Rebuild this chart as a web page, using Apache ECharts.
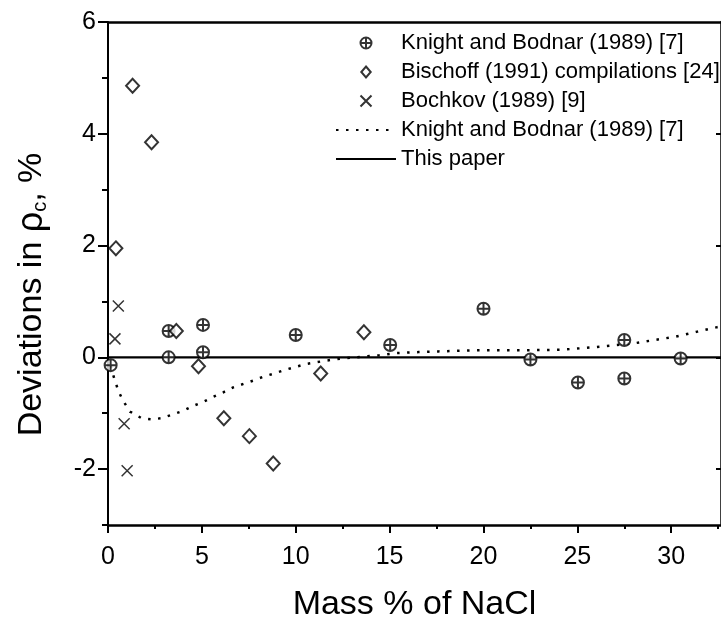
<!DOCTYPE html>
<html>
<head>
<meta charset="utf-8">
<script src="https://cdn.jsdelivr.net/npm/echarts@6/dist/echarts.min.js"></script>
<style>
html,body{margin:0;padding:0;background:#fff;}
#c{width:721px;height:627px;}
</style>
</head>
<body>
<div id="c"></div>
<script>
// ---- data ----
const knightX = [0.14, 3.23, 3.23, 5.06, 5.06, 10.0, 15.03, 20.0, 22.5, 25.03, 27.5, 27.5, 30.5];
const knightY = [-0.14, 0.47, 0.0, 0.58, 0.09, 0.40, 0.22, 0.87, -0.04, -0.45, 0.31, -0.38, -0.02];

const bischoffX = [0.42, 1.31, 2.32, 3.64, 4.82, 6.17, 7.53, 8.8, 11.33, 13.63];
const bischoffY = [1.95, 4.86, 3.85, 0.47, -0.16, -1.09, -1.41, -1.90, -0.29, 0.45];

const bochkovX = [0.37, 0.55, 0.86, 1.02];
const bochkovY = [0.33, 0.92, -1.19, -2.03];

const knightFitX = [0.15, 0.28, 0.55, 0.81, 1.17, 1.79, 2.32, 2.84, 3.46, 3.99, 4.52, 5.06, 5.59, 6.12, 6.65, 7.26, 7.79, 8.32, 8.85, 9.47, 10.53, 11.59, 12.21, 13.8, 14.42, 15.39, 16.54, 17.6, 18.75, 19.37, 20.5, 22.0, 24.15, 25.3, 26.4, 28.0, 29.1, 30.24, 31.39, 32.45, 32.65];
const knightFitY = [-0.15, -0.32, -0.60, -0.78, -0.97, -1.09, -1.11, -1.09, -1.02, -0.96, -0.87, -0.80, -0.71, -0.63, -0.54, -0.47, -0.41, -0.34, -0.29, -0.22, -0.12, -0.06, -0.03, 0.02, 0.035, 0.076, 0.094, 0.106, 0.118, 0.124, 0.128, 0.125, 0.136, 0.165, 0.195, 0.25, 0.31, 0.37, 0.46, 0.54, 0.55];

const thisPaperX = [0, 32.65];
const thisPaperY = [0, 0];

const seriesNames = ['Knight and Bodnar (1989) [7]', 'Bischoff (1991) compilations [24]', 'Bochkov (1989) [9]', 'Knight and Bodnar (1989) [7] ', 'This paper'];

const xMajorTicks = [0, 5, 10, 15, 20, 25, 30];
const xMinorTicks = [2.5, 7.5, 12.5, 17.5, 22.5, 27.5, 32.5];
const yMajorTicks = [-2, 0, 2, 4, 6];
const yMinorTicks = [-3, -1, 1, 3, 5];
const yRightTicks = [-2, 0, 2, 4];

const X_MIN = 0, X_MAX = 32.65, Y_MIN = -3, Y_MAX = 6;

// ---- chart ----
const FONT = '"Liberation Sans", Arial, Helvetica, sans-serif';
const pairs = (xs, ys) => xs.map((x, i) => [x, ys[i]]);
const black = '#000';

const oplusPath = 'path://M10,0 A10,10 0 1,1 -10,0 A10,10 0 1,1 10,0 Z M-10,0 L10,0 M0,-10 L0,10';
const diamondPath = 'path://M0,-7 L6,0 L0,7 L-6,0 Z';
const crossPath = 'path://M0,0 L10,10 M0,10 L10,0';

const chart = echarts.init(document.getElementById('c'), null, {renderer: 'canvas'});

const baseX = {type: 'value', min: X_MIN, max: X_MAX, splitLine: {show: false}};
const baseY = {type: 'value', min: Y_MIN, max: Y_MAX, splitLine: {show: false}};
const hiddenItem = {color: 'transparent', borderWidth: 0, opacity: 0};

chart.setOption({
  animation: false,
  backgroundColor: '#fff',
  grid: {left: 108, right: -3, top: 22, bottom: 96, containLabel: false},
  legend: {
    orient: 'vertical',
    left: 335,
    top: 32,
    padding: 0,
    itemWidth: 60,
    itemHeight: 11,
    itemGap: 7,
    selectedMode: false,
    data: seriesNames,
    textStyle: {fontFamily: FONT, fontSize: 22, lineHeight: 22, color: black}
  },
  xAxis: [
    Object.assign({}, baseX, {
      position: 'bottom',
      axisLine: {onZero: false, lineStyle: {color: black, width: 2.5}},
      axisTick: {customValues: xMajorTicks, length: 8, lineStyle: {color: black, width: 2}},
      axisLabel: {customValues: xMajorTicks, margin: 20, fontFamily: FONT, fontSize: 25, color: black},
      name: 'Mass % of NaCl',
      nameLocation: 'middle',
      nameGap: 63,
      nameTextStyle: {fontFamily: FONT, fontSize: 34, color: black}
    }),
    Object.assign({}, baseX, {
      position: 'bottom',
      axisLine: {onZero: false, show: false},
      axisTick: {customValues: xMinorTicks, length: 4, lineStyle: {color: black, width: 2}},
      axisLabel: {show: false}
    }),
    Object.assign({}, baseX, {
      position: 'top',
      axisLine: {onZero: false, lineStyle: {color: black, width: 2.5}},
      axisTick: {show: false},
      axisLabel: {show: false}
    })
  ],
  yAxis: [
    Object.assign({}, baseY, {
      position: 'left',
      axisLine: {onZero: false, lineStyle: {color: black, width: 2}},
      axisTick: {customValues: yMajorTicks, length: 10, lineStyle: {color: black, width: 2}},
      axisLabel: {customValues: yMajorTicks, margin: 12, fontFamily: FONT, fontSize: 25, color: black},
      name: '{t|Deviations in }{r|ρ}{s|c}{t|, %}',
      nameLocation: 'middle',
      nameGap: 58,
      nameRotate: 90,
      nameTextStyle: {
        fontFamily: FONT, fontSize: 34, color: black,
        padding: [0, 42, 0, 0],
        rich: {
          t: {fontFamily: FONT, fontSize: 34, color: black},
          r: {fontFamily: FONT, fontSize: 36, color: black},
          s: {fontFamily: FONT, fontSize: 20, color: black, verticalAlign: 'bottom'}
        }
      }
    }),
    Object.assign({}, baseY, {
      position: 'left',
      axisLine: {onZero: false, show: false},
      axisTick: {customValues: yMinorTicks, length: 6, lineStyle: {color: black, width: 2}},
      axisLabel: {show: false}
    }),
    Object.assign({}, baseY, {
      position: 'right',
      axisLine: {onZero: false, lineStyle: {color: black, width: 2.5}},
      axisTick: {customValues: yRightTicks, inside: true, length: 5, lineStyle: {color: black, width: 2}},
      axisLabel: {show: false}
    })
  ],
  series: [
    {
      name: seriesNames[3], type: 'line', data: pairs(knightFitX, knightFitY),
      symbol: 'none', smooth: false, z: 2, color: black,
      itemStyle: hiddenItem,
      lineStyle: {color: black, width: 2.5, type: [2.5, 7.5]}
    },
    {
      name: seriesNames[4], type: 'line', data: pairs(thisPaperX, thisPaperY),
      symbol: 'none', z: 2, color: black,
      itemStyle: hiddenItem,
      lineStyle: {color: black, width: 2.2}
    },
    {
      name: seriesNames[0], type: 'scatter', data: pairs(knightX, knightY),
      symbol: oplusPath, symbolSize: 12, z: 3,
      itemStyle: {color: '#fff', borderColor: black, borderWidth: 2}
    },
    {
      name: seriesNames[1], type: 'scatter', data: pairs(bischoffX, bischoffY),
      symbol: diamondPath, symbolSize: [13, 14], z: 3,
      itemStyle: {color: '#fff', borderColor: black, borderWidth: 2}
    },
    {
      name: seriesNames[2], type: 'scatter', data: pairs(bochkovX, bochkovY),
      symbol: crossPath, symbolSize: 11, z: 3,
      itemStyle: {color: 'transparent', borderColor: black, borderWidth: 1.5}
    }
  ]
});
</script>
</body>
</html>
